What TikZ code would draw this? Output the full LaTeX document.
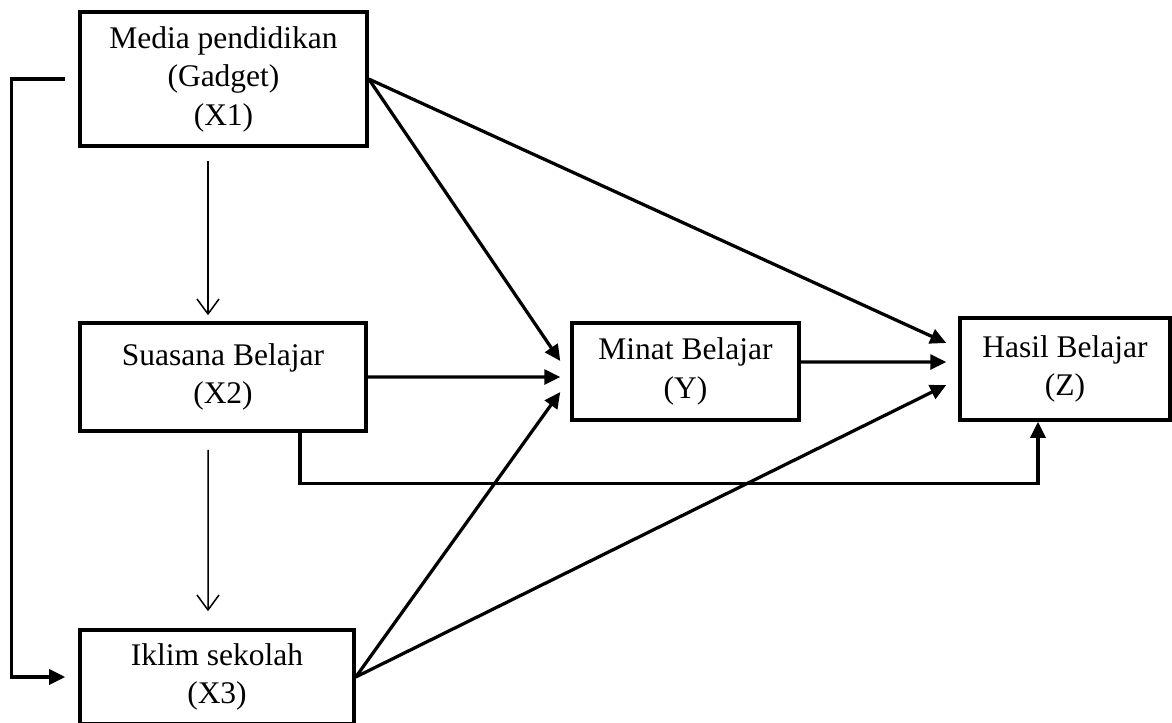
\documentclass[tikz,border=0pt]{standalone}
\usepackage{fontspec}
\setmainfont{Liberation Serif}
\usetikzlibrary{arrows.meta}

\begin{document}
\begin{tikzpicture}[x=0.4pt,y=-0.4pt,
    box/.style={draw,line width=1.4pt,align=center,inner sep=0pt,font=\fontsize{12.6}{15.4}\selectfont},
    arr/.style={line width=1.3pt,-{Triangle[length=6.4pt,width=6pt]}},
    thinarr/.style={line width=0.6pt,-{Straight Barb[length=6pt,width=8.8pt]}}]
    \useasboundingbox (0,0) rectangle (1172,722);

    \node (X1) [box,minimum width=114.8pt,minimum height=53.6pt] at (223.5,79) {Media pendidikan\\(Gadget)\\(X1)};
    \node (X2) [box,minimum width=114.4pt,minimum height=43.2pt] at (223,377) {Suasana Belajar\\(X2)};
    \node (X3) [box,minimum width=109.6pt,minimum height=37.6pt] at (217,677) {Iklim sekolah\\(X3)};
    \node (Y) [box,minimum width=90.8pt,minimum height=38.8pt] at (685.5,371.5) {Minat Belajar\\(Y)};
    \node (Z) [box,minimum width=84pt,minimum height=40.8pt] at (1065,369) {Hasil Belajar\\(Z)};

    \draw[thinarr] ([xshift=-6.2pt,yshift=-5.2pt]X1.south) -- ([xshift=-6pt,yshift=2.4pt]X2.north);
    \draw[thinarr] ([xshift=-6pt,yshift=-6.8pt]X2.south) -- ([xshift=-3.6pt,yshift=6.8pt]X3.north);

    \draw[arr] ([xshift=-5.2pt]X1.west) -- ++(-54,0) |- ([xshift=-5.2pt]X3.west);

    \draw[arr] (X1.east) -- ([xshift=-4pt,yshift=4.2pt]Y.west);
    \draw[arr] (X2.east) -- ([xshift=-4pt,yshift=-2.2pt]Y.west);
    \draw[arr] (X3.east) -- ([xshift=-4pt,yshift=-8.2pt]Y.west);

    \draw[arr] ([yshift=3.8pt]Y.east) -- ([xshift=-4.8pt,yshift=2.8pt]Z.west);
    \draw[arr] (X1.east) -- ([xshift=-4.8pt,yshift=10.4pt]Z.west);
    \draw[arr] (X3.east) -- ([xshift=-4.8pt,yshift=-6.4pt]Z.west);

    \draw[arr] ([xshift=30.8pt]X2.south) -- ++(0,51) -| ([xshift=-10.8pt]Z.south);
\end{tikzpicture}
\end{document}
